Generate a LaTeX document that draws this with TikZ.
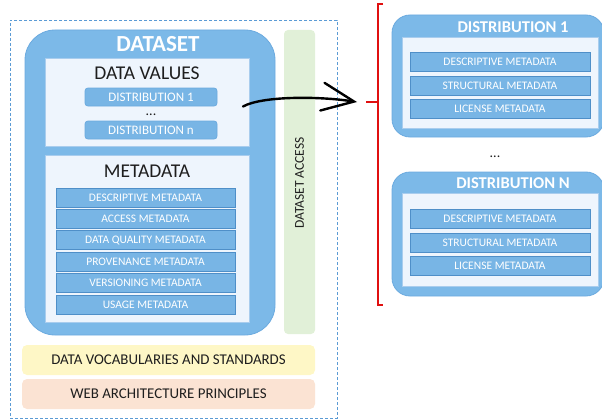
\documentclass[tikz,border=0pt]{standalone}
\usepackage{fontspec}
\setmainfont{Carlito}
\usetikzlibrary{arrows.meta}

\definecolor{dsblue}{HTML}{7CB9E8}
\definecolor{dsedge}{HTML}{6BAADF}
\definecolor{pale}{HTML}{EEF5FD}
\definecolor{paleedge}{HTML}{A9CDEE}
\definecolor{itemblue}{HTML}{78B5E5}
\definecolor{itemedge}{HTML}{4F8FC8}
\definecolor{accessgreen}{HTML}{E1F0D8}
\definecolor{vocabyellow}{HTML}{FEF7C6}
\definecolor{webpeach}{HTML}{FBE3D3}
\definecolor{dashblue}{HTML}{5B9BD5}
\definecolor{textdark}{HTML}{1E1E1E}
\definecolor{bracketred}{HTML}{E01010}

\tikzset{
  container/.style={draw=dsedge, fill=dsblue, line width=0.8pt, inner sep=0pt},
  panel/.style={draw=paleedge, fill=pale, line width=0.8pt, inner sep=0pt},
  item/.style={draw=itemedge, fill=itemblue, line width=0.8pt, inner sep=0pt,
    minimum height=19pt, text=white, font=\fontsize{11.5}{13}\selectfont},
  distitem/.style={item, draw=dsedge, rounded corners=3pt, minimum width=132pt,
    minimum height=18pt, font=\fontsize{13}{15}\selectfont},
  heading/.style={text=white, font=\bfseries\fontsize{23}{27}\selectfont, inner sep=0pt},
  subheading/.style={text=textdark, font=\fontsize{19.5}{23}\selectfont, inner sep=0pt},
  disthead/.style={text=white, font=\bfseries\fontsize{16.5}{20}\selectfont, inner sep=0pt},
  band/.style={draw=none, rounded corners=5pt, inner sep=0pt, text=textdark,
    minimum width=293pt, minimum height=30pt, font=\fontsize{14.9}{17}\selectfont},
  dots/.style={text=textdark, inner sep=0pt, font=\fontsize{14}{16}\selectfont},
}

\begin{document}
\begin{tikzpicture}[x=1pt, y=-1pt]
  \useasboundingbox (0,0) rectangle (602,420);

  % outer dashed frame
  \node[draw=dashblue, dashed, dash pattern=on 3pt off 2pt, line width=0.7pt,
        minimum width=327pt, minimum height=398pt, inner sep=0pt] (frame) at (173.5,219) {};

  % dataset container
  \node[container, rounded corners=30pt, minimum width=250pt, minimum height=305pt] (dataset) at (150,182.5) {};
  \node[heading] (datasettitle) at (158,44) {DATASET};

  % data values panel
  \node[panel, minimum width=204pt, minimum height=88pt] (values) at (147,102) {};
  \node[subheading] (valuestitle) at (147,73) {DATA VALUES};
  \node[distitem] (vdist1) at (151,97) {DISTRIBUTION 1};
  \node[dots] (vdots) at (151,115) {...};
  \node[distitem] (vdistn) at (151,130) {DISTRIBUTION n};

  % metadata panel
  \node[panel, minimum width=204pt, minimum height=167pt] (meta) at (147,238.5) {};
  \node[subheading] (metatitle) at (147,171) {METADATA};
  \foreach \name/\label [count=\i from 0] in {
      mdesc/DESCRIPTIVE METADATA,
      macc/ACCESS METADATA,
      mqual/DATA QUALITY METADATA,
      mprov/PROVENANCE METADATA,
      mvers/VERSIONING METADATA,
      musage/USAGE METADATA}
    \node[item, minimum width=179pt] (\name) at (145.5,197.5+21.4*\i) {\label};

  % dataset access bar
  \node[fill=accessgreen, rounded corners=4pt, minimum width=31pt, minimum height=304pt,
        inner sep=0pt] (access) at (299.5,182) {};
  \node[rotate=90, text=textdark, inner sep=0pt, font=\fontsize{13.5}{16}\selectfont]
        (accesslabel) at (299.5,183) {DATASET ACCESS};

  % foundation bands
  \node[band, fill=vocabyellow] (vocab) at (168.5,360) {DATA VOCABULARIES AND STANDARDS};
  \node[band, fill=webpeach] (webarch) at (168.5,394) {WEB ARCHITECTURE PRINCIPLES};

  % red bracket grouping the distributions
  \coordinate (brtop) at (383,4);
  \coordinate (brbot) at (383,305);
  \coordinate (brmid) at (378,102);
  \coordinate (brtick) at (366,102);
  \draw[bracketred, line width=1.5pt] (brtop) -- (378,4) -- (378,305) -- (brbot);
  \draw[bracketred, line width=1.5pt] (brtick) -- (brmid);

  % arrow from the data values to the distributions
  \coordinate (arrowfrom) at (243,106.5);
  \coordinate (arrowtip) at (357,102);
  \draw[line width=2.4pt, line cap=round,
        -{Straight Barb[length=32pt, width=28pt, line cap=round]}]
    (arrowfrom) .. controls (262,96) and (318,96) .. (arrowtip);

  % distribution 1
  \node[container, rounded corners=18pt, minimum width=212pt, minimum height=122pt] (dist1) at (498,76) {};
  \node[disthead] (dist1title) at (513,27) {DISTRIBUTION 1};
  \node[panel, minimum width=196pt, minimum height=91pt] (dist1panel) at (500,82.5) {};
  \node[item, minimum width=180pt] (d1desc) at (500,61.7) {DESCRIPTIVE METADATA};
  \node[item, minimum width=180pt] (d1struct) at (500,85.8) {STRUCTURAL METADATA};
  \node[item, minimum width=180pt] (d1lic) at (500,109.2) {LICENSE METADATA};

  \node[dots] (distdots) at (495,157) {...};

  % distribution N
  \node[container, rounded corners=18pt, minimum width=212pt, minimum height=124pt] (distN) at (498,234) {};
  \node[disthead] (distNtitle) at (513,183) {DISTRIBUTION N};
  \node[panel, minimum width=196pt, minimum height=93pt] (distNpanel) at (500,239.5) {};
  \node[item, minimum width=180pt] (dNdesc) at (500,218.5) {DESCRIPTIVE METADATA};
  \node[item, minimum width=180pt] (dNstruct) at (500,242.5) {STRUCTURAL METADATA};
  \node[item, minimum width=180pt] (dNlic) at (500,265.8) {LICENSE METADATA};
\end{tikzpicture}
\end{document}
